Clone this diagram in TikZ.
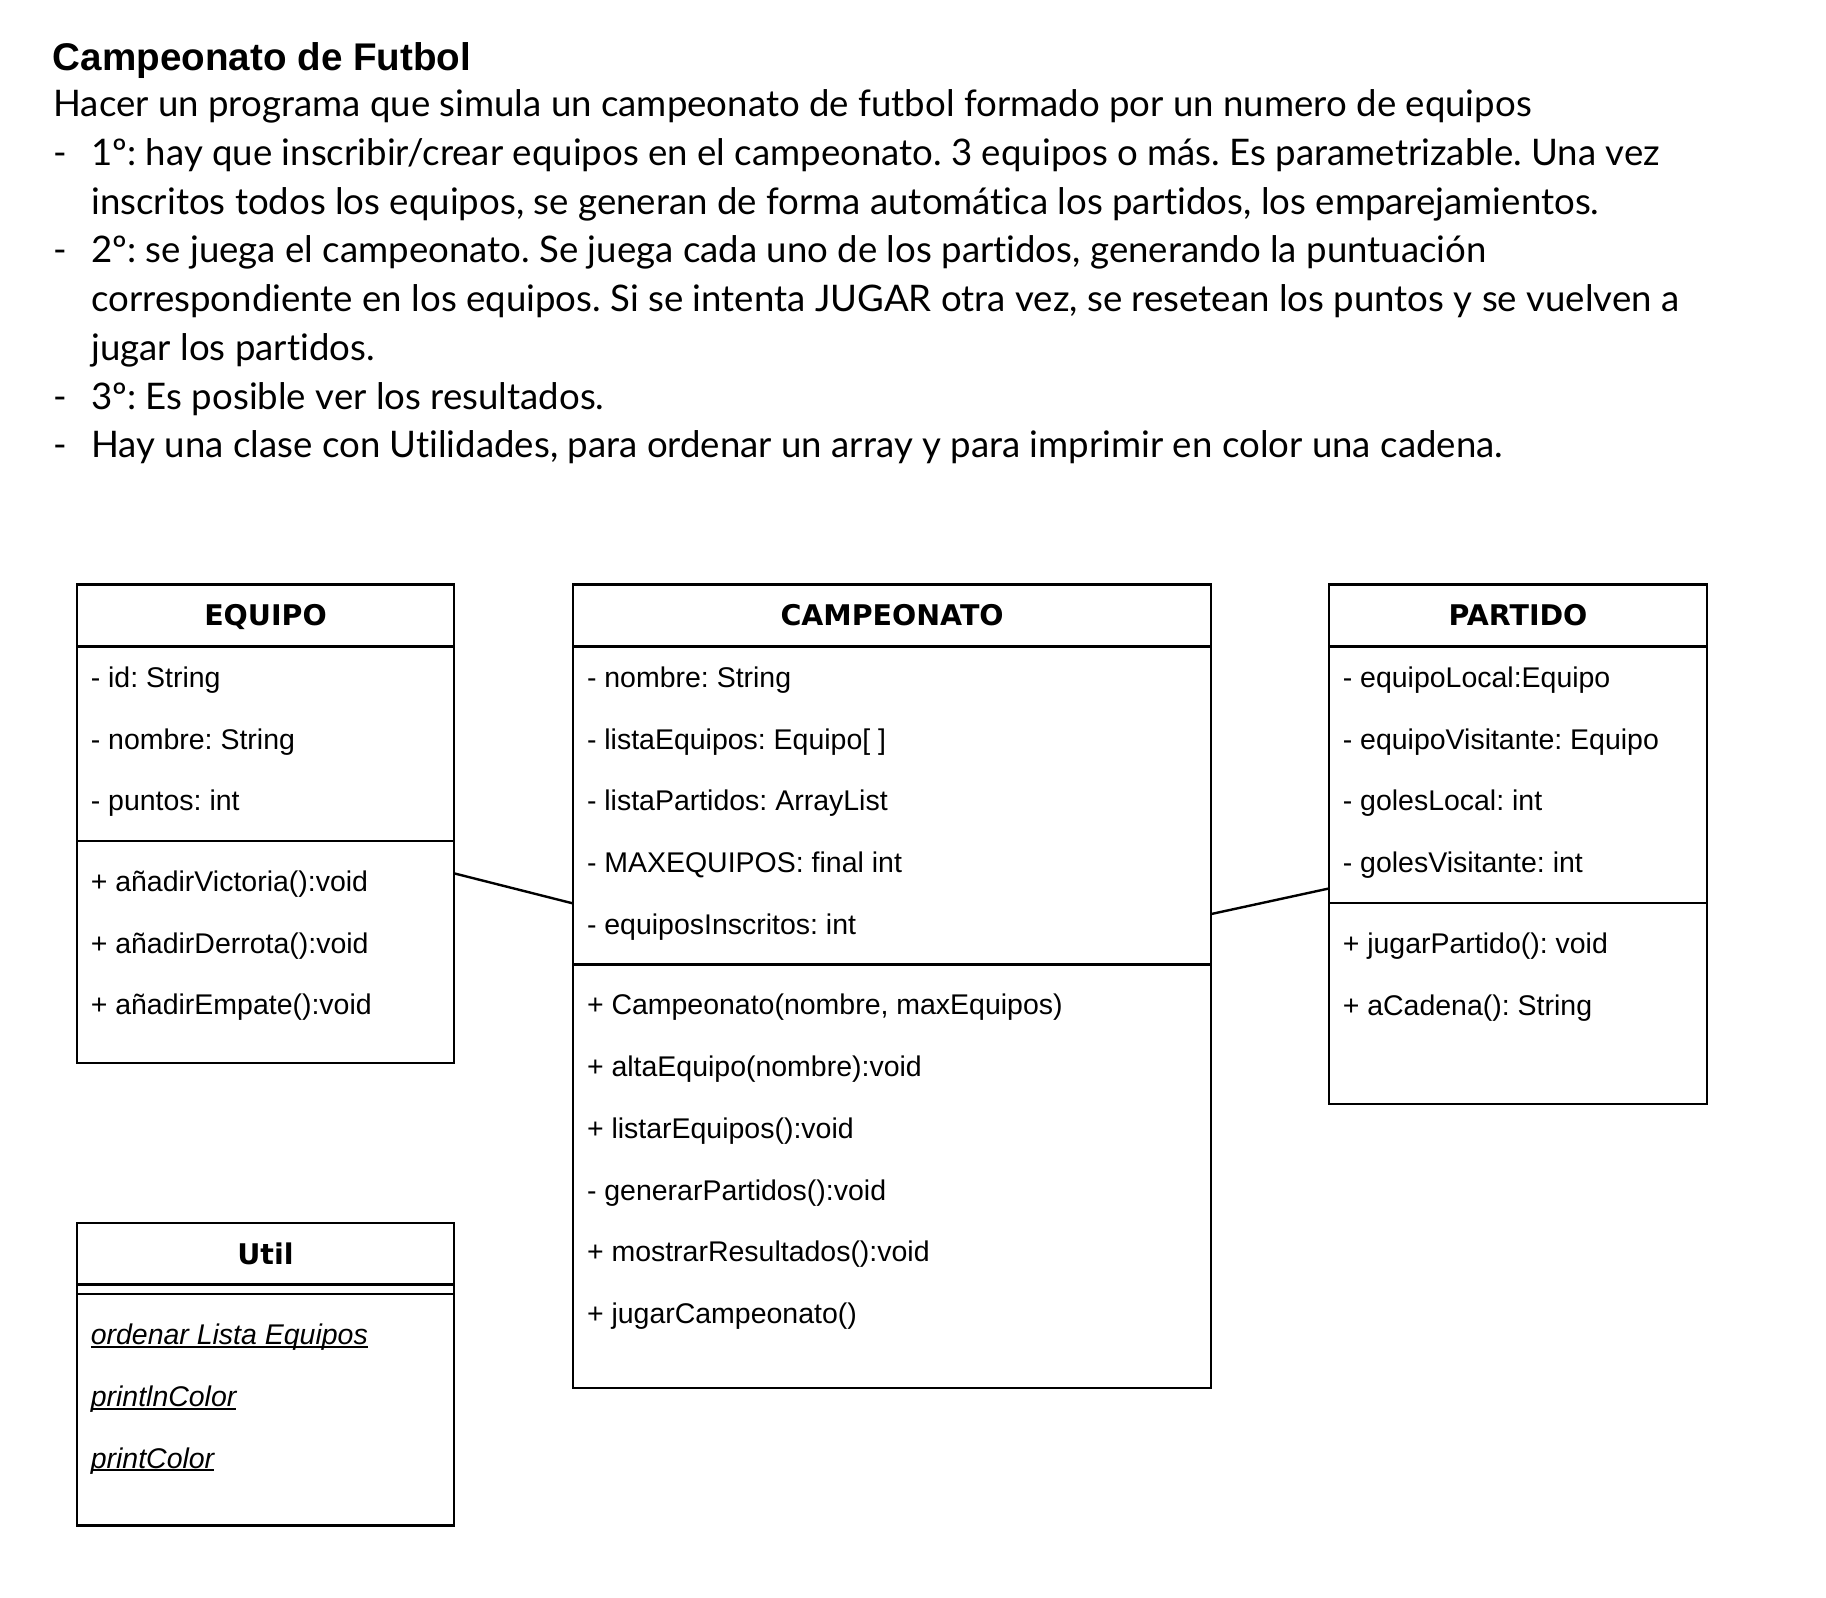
\documentclass[tikz,border=0pt]{standalone}
\usepackage{fontspec}
\usepackage{tikz}
\usetikzlibrary{positioning}
\setmainfont{Liberation Sans}
\newfontfamily\textofont{Lato}[Ligatures=NoCommon]
\newfontfamily\cabecerafont{DejaVu Sans}
\newcommand{\fila}{\rule[-10.33pt]{0pt}{30.86pt}}
\newcommand{\compartimento}[3]{\parbox[c][#2][t]{#1}{\fontsize{14.24}{30.86}\selectfont #3}}
\newcommand{\subrayado}[1]{\setbox0\hbox{\itshape #1}\rlap{\rule[-1.6pt]{\wd0}{0.9pt}}\box0}
\newcommand{\guion}{\makebox[19pt][l]{-}}
\newcommand{\sangria}{\hspace*{19pt}}
\frenchspacing

\begin{document}
\begin{tikzpicture}[x=1pt, y=1pt,
    class_head/.style={draw, line width=1.2pt, outer sep=0pt, inner sep=0pt, anchor=north west,
        minimum height=30.86pt, text height=10.4pt, text depth=0pt,
        font=\cabecerafont\bfseries\fontsize{14.24}{17}\selectfont},
    class_part/.style={draw, line width=1.2pt, outer sep=0pt, inner xsep=7pt, inner ysep=0pt},
    assoc/.style={line width=1.2pt},
]
\useasboundingbox (0,0) rectangle (913,-799);

\node[anchor=base west, inner sep=0pt, font=\bfseries\fontsize{19.3}{22}\selectfont] (titulo) at (26.3,-35.35) {Campeonato de Futbol};
% base of a multi-line node = its last line
\node[anchor=base west, inner sep=0pt, align=left, font=\textofont\fontsize{18.3}{24.37}\selectfont] (enunciado) at (26.5,-228.9) {%
Hacer un programa que simula un campeonato de futbol formado por un numero de equipos\\
\guion 1º: hay que inscribir/crear equipos en el campeonato. 3 equipos o más. Es parametrizable. Una vez\\
\sangria inscritos todos los equipos, se generan de forma automática los partidos, los emparejamientos.\\
\guion 2º: se juega el campeonato. Se juega cada uno de los partidos, generando la puntuación\\
\sangria correspondiente en los equipos. Si se intenta JUGAR otra vez, se resetean los puntos y se vuelven a\\
\sangria jugar los partidos.\\
\guion 3º: Es posible ver los resultados.\\
\guion Hay una clase con Utilidades, para ordenar un array y para imprimir en color una cadena.};

% EQUIPO
\node[class_head, minimum width=188.7pt] (equipo) at (38.4,-292.3) {EQUIPO};
\node[class_part, below=0pt of equipo] (equipo_attr) {\compartimento{174.7pt}{97.33pt}{%
\fila - id: String\\
\fila - nombre: String\\
\fila - puntos: int}};
\node[class_part, below=0pt of equipo_attr] (equipo_meth) {\compartimento{174.7pt}{111.1pt}{\vspace*{4.75pt}%
\fila + añadirVictoria():void\\
\fila + añadirDerrota():void\\
\fila + añadirEmpate():void}};

% CAMPEONATO
\node[class_head, minimum width=319.1pt] (campeonato) at (286.5,-292.3) {CAMPEONATO};
\node[class_part, below=0pt of campeonato] (campeonato_attr) {\compartimento{305.1pt}{159.05pt}{%
\fila - nombre: String\\
\fila - listaEquipos: Equipo[ ]\\
\fila - listaPartidos: ArrayList\\
\fila - MAXEQUIPOS: final int\\
\fila - equiposInscritos: int}};
\node[class_part, below=0pt of campeonato_attr] (campeonato_meth) {\compartimento{305.1pt}{211.8pt}{\vspace*{4.75pt}%
\fila + Campeonato(nombre, maxEquipos)\\
\fila + altaEquipo(nombre):void\\
\fila + listarEquipos():void\\
\fila - generarPartidos():void\\
\fila + mostrarResultados():void\\
\fila + jugarCampeonato()}};

% PARTIDO
\node[class_head, minimum width=189.2pt] (partido) at (664.4,-292.3) {PARTIDO};
\node[class_part, below=0pt of partido] (partido_attr) {\compartimento{175.2pt}{128.2pt}{%
\fila - equipoLocal:Equipo\\
\fila - equipoVisitante: Equipo\\
\fila - golesLocal: int\\
\fila - golesVisitante: int}};
\node[class_part, below=0pt of partido_attr] (partido_meth) {\compartimento{175.2pt}{100.7pt}{\vspace*{4.75pt}%
\fila + jugarPartido(): void\\
\fila + aCadena(): String}};

% Util
\node[class_head, minimum width=188.7pt] (util) at (38.4,-611.4) {Util};
\node[class_part, below=0pt of util, minimum width=188.7pt, minimum height=4.75pt, inner sep=0pt] (util_sep) {};
\node[class_part, below=0pt of util_sep] (util_meth) {\compartimento{174.7pt}{115.7pt}{\vspace*{4.75pt}%
\fila \subrayado{ordenar Lista Equipos}\\
\fila \subrayado{printlnColor}\\
\fila \subrayado{printColor}}};

\draw[assoc] ([yshift=-16.2pt]equipo_meth.north east) -- ([yshift=30.5pt]campeonato_attr.south west);
\draw[assoc] ([yshift=25.2pt]campeonato_attr.south east) -- ([yshift=7.1pt]partido_attr.south west);

\end{tikzpicture}
\end{document}
